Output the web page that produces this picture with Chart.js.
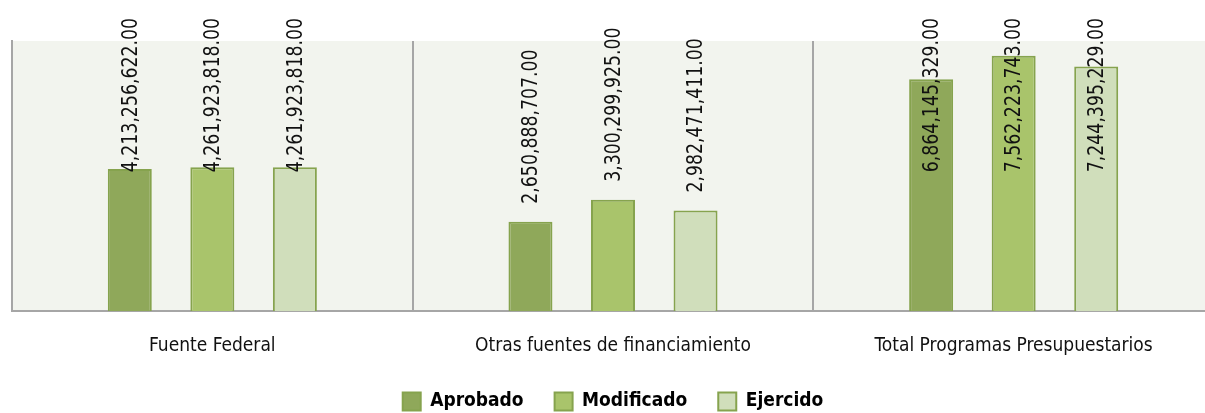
<!DOCTYPE html>
<html>
<head>
<meta charset="utf-8">
<script src="https://cdn.jsdelivr.net/npm/chart.js@4.4.0/dist/chart.umd.js"></script>
<style>
    html, body { margin: 0; padding: 0; background: #fff; overflow: hidden; }
    #wrap { position: relative; width: 1214px; height: 421px; }
</style>
</head>
<body>
<div id="wrap"><canvas id="myChart"></canvas></div>
<script>
// Chart data
const categories = ['Fuente Federal', 'Otras fuentes de financiamiento', 'Total Programas Presupuestarios'];
const aprobado = [4213256622, 2650888707, 6864145329];
const modificado = [4261923818, 3300299925, 7562223743];
const ejercido = [4261923818, 2982471411, 7244395229];
const yMax = 8000000000;

const FONT = '"DejaVu Sans Condensed", "Liberation Sans", sans-serif';
const BORDER = '#86A34E';
const SQUEEZE = 0.875; // the original uses a condensed face

// Plot area background
const plotBackground = {
    id: 'plotBackground',
    beforeDraw(chart) {
        const { ctx, chartArea } = chart;
        ctx.save();
        ctx.fillStyle = '#F2F4EE';
        ctx.fillRect(chartArea.left, chartArea.top, chartArea.right - chartArea.left, chartArea.bottom - chartArea.top);
        ctx.restore();
    }
};

// Rotated value labels, kept inside the top of the canvas
const valueLabels = {
    id: 'valueLabels',
    afterDatasetsDraw(chart) {
        const { ctx } = chart;
        ctx.save();
        ctx.font = '22px ' + FONT;
        ctx.fillStyle = '#111';
        ctx.textAlign = 'left';
        ctx.textBaseline = 'middle';
        chart.data.datasets.forEach((ds, di) => {
            const meta = chart.getDatasetMeta(di);
            meta.data.forEach((bar, i) => {
                const text = ds.data[i].toLocaleString('en-US', { minimumFractionDigits: 2, maximumFractionDigits: 2 });
                const w = ctx.measureText(text).width * SQUEEZE;
                let y = bar.y - 18;
                if (y - w < 18) y = 18 + w;
                ctx.save();
                ctx.translate(bar.x + 1, y);
                ctx.rotate(-Math.PI / 2);
                ctx.scale(SQUEEZE, 1);
                ctx.fillText(text, 0, 0);
                ctx.restore();
            });
        });
        ctx.restore();
    }
};

new Chart(document.getElementById('myChart'), {
    type: 'bar',
    data: {
        labels: categories,
        datasets: [
            { label: 'Aprobado', data: aprobado, backgroundColor: '#8FA85A', borderColor: BORDER, borderWidth: 2 },
            { label: 'Modificado', data: modificado, backgroundColor: '#A9C46B', borderColor: BORDER, borderWidth: 2 },
            { label: 'Ejercido', data: ejercido, backgroundColor: '#D0DEBB', borderColor: BORDER, borderWidth: 2 }
        ]
    },
    options: {
        responsive: true,
        maintainAspectRatio: false,
        animation: false,
        layout: { padding: { left: 12, top: 41, right: 0, bottom: 0 } },
        datasets: {
            bar: { categoryPercentage: 0.618, barPercentage: 0.533 }
        },
        plugins: {
            legend: {
                position: 'bottom',
                labels: {
                    boxWidth: 18,
                    boxHeight: 18,
                    padding: 31,
                    color: '#000',
                    font: { family: FONT, size: 19, weight: 'bold' }
                }
            },
            tooltip: { enabled: false }
        },
        scales: {
            x: {
                grid: { color: '#A6A6A6', lineWidth: 2, drawTicks: false, offset: true },
                border: { color: '#A6A6A6', width: 2 },
                ticks: { color: '#111', padding: 23, font: { family: FONT, size: 19 } },
                afterFit(scale) { scale.height -= 19; }
            },
            y: {
                min: 0,
                max: yMax,
                grid: { display: false, drawTicks: false },
                border: { color: '#A6A6A6', width: 2 },
                ticks: { display: false }
            }
        }
    },
    plugins: [plotBackground, valueLabels]
});
</script>
</body>
</html>
